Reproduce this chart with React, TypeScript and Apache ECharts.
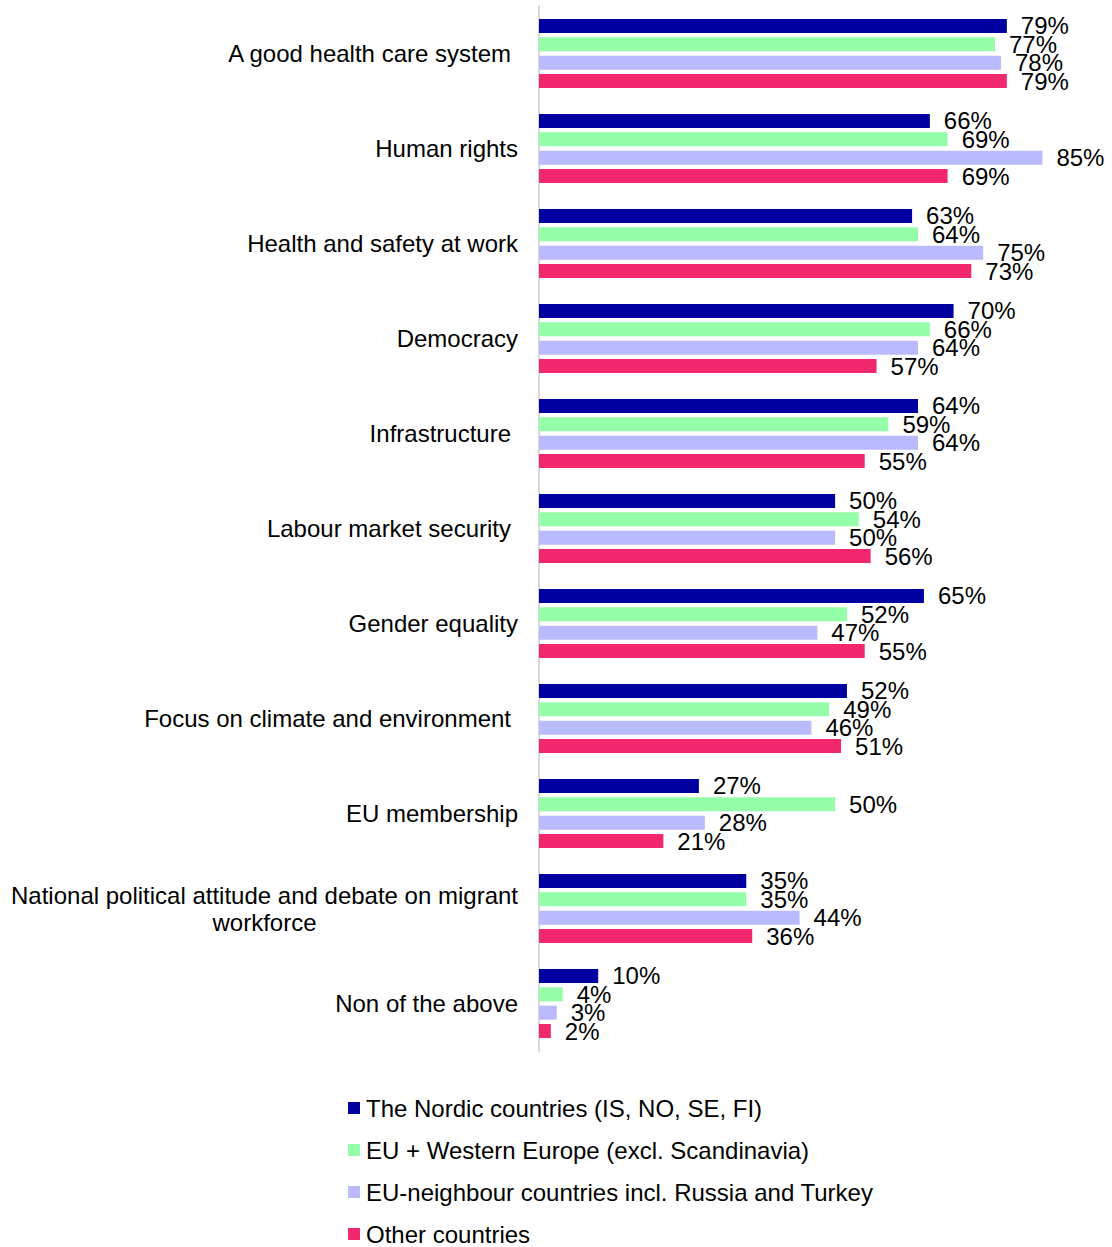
import React, { useEffect, useRef } from "react";
import * as echarts from "echarts";

const categories = [
  "A good health care system",
  "Human rights",
  "Health and safety at work",
  "Democracy",
  "Infrastructure",
  "Labour market security",
  "Gender equality",
  "Focus on climate and environment",
  "EU membership",
  "National political attitude and debate on migrant\nworkforce",
  "Non of the above",
];
const paddedCategories = [
  "A good health care system",
  "Infrastructure",
  "Labour market security",
  "Focus on climate and environment",
];

const seriesNames = [
  "The Nordic countries (IS, NO, SE, FI)",
  "EU + Western Europe (excl. Scandinavia)",
  "EU-neighbour countries incl. Russia and Turkey",
  "Other countries",
];
const nordic = [79, 66, 63, 70, 64, 50, 65, 52, 27, 35, 10];
const euWestern = [77, 69, 64, 66, 59, 54, 52, 49, 50, 35, 4];
const euNeighbour = [78, 85, 75, 64, 64, 50, 47, 46, 28, 44, 3];
const otherCountries = [79, 69, 73, 57, 55, 56, 55, 51, 21, 36, 2];
const colors = ["#0000A0", "#94FFA8", "#BABAFF", "#F2286E"];

const FONT = "'Liberation Sans', Arial, sans-serif";
const FS = 24;

export default function App() {
  const ref = useRef<HTMLDivElement>(null);
  useEffect(() => {
    if (!ref.current) return;
    const chart = echarts.init(ref.current, null, { renderer: "svg" });
    const data = [nordic, euWestern, euNeighbour, otherCountries];
    chart.setOption({
      animation: false,
      backgroundColor: "#ffffff",
      textStyle: { fontFamily: FONT },
      grid: { left: 539, top: 6, height: 1045, width: 533 },
      xAxis: {
        type: "value",
        min: 0,
        max: 90,
        show: false,
      },
      yAxis: {
        type: "category",
        data: categories,
        inverse: true,
        axisTick: { show: false },
        axisLine: { show: true, lineStyle: { color: "#D9D9D9", width: 2 } },
        splitLine: { show: false },
        axisLabel: {
          margin: 21,
          color: "#000",
          fontFamily: FONT,
          fontSize: FS,
          formatter: (v: string) => {
            if (v.indexOf("\n") >= 0) {
              return v
                .split("\n")
                .map((l) => "{c|" + l + "}")
                .join("\n");
            }
            if (paddedCategories.indexOf(v) >= 0) return "{p|" + v + "}";
            return "{n|" + v + "}";
          },
          rich: {
            c: { align: "center", fontSize: FS, fontFamily: FONT, color: "#000", lineHeight: 27 },
            p: { fontSize: FS, fontFamily: FONT, color: "#000", padding: [0, 7, 0, 0] },
            n: { fontSize: FS, fontFamily: FONT, color: "#000" },
          },
        },
      },
      legend: {
        orient: "vertical",
        left: 348,
        top: 1096,
        height: 300,
        padding: 0,
        icon: "rect",
        itemWidth: 12,
        itemHeight: 12,
        itemGap: 18,
        textStyle: { fontFamily: FONT, fontSize: FS, color: "#000", padding: [0, 0, 0, 1] },
        data: seriesNames,
      },
      series: seriesNames.map((name, i) => ({
        name,
        type: "bar",
        data: data[i],
        barWidth: 14,
        barGap: "31%",
        itemStyle: { color: colors[i] },
        label: {
          show: true,
          position: "right",
          distance: 14,
          formatter: "{c}%",
          color: "#000",
          fontFamily: FONT,
          fontSize: FS,
        },
      })),
    });
    return () => chart.dispose();
  }, []);
  return (
    <div
      ref={ref}
      style={{ position: "absolute", left: 0, top: 0, width: 1112, height: 1247 }}
    />
  );
}
